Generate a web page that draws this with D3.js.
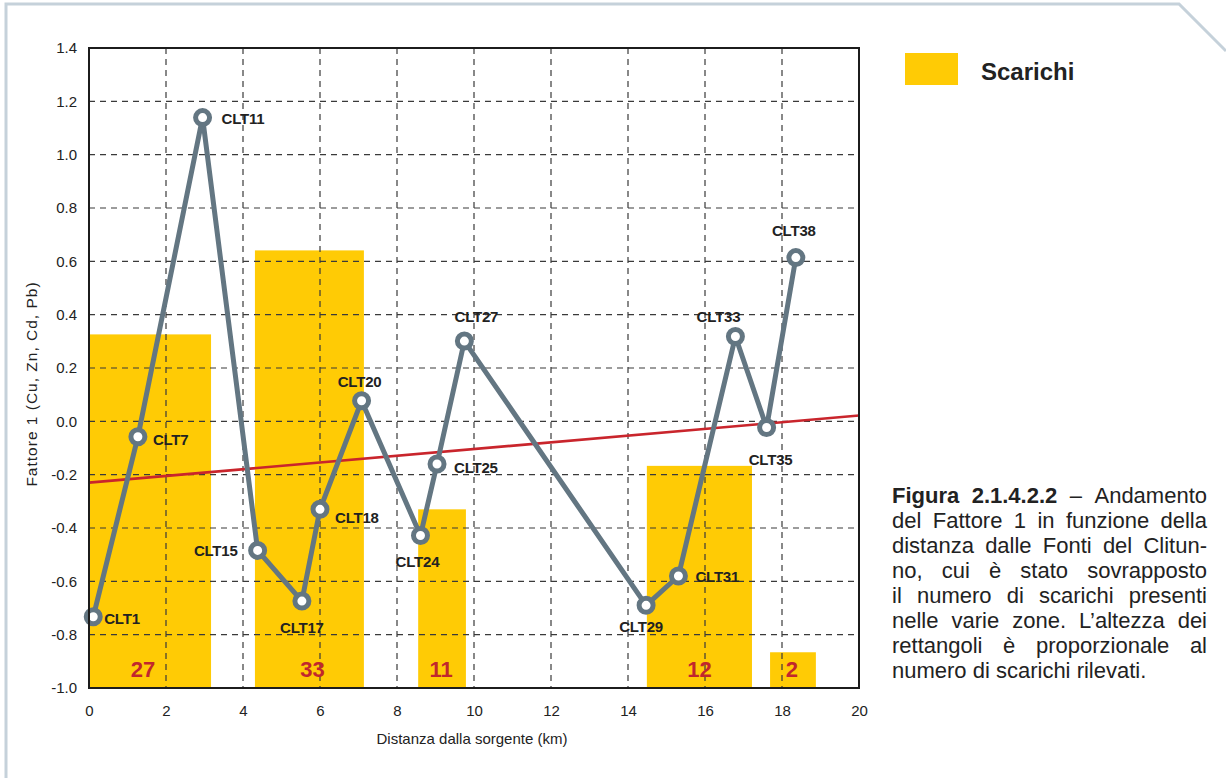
<!DOCTYPE html>
<html>
<head>
<meta charset="utf-8">
<script src="https://cdn.jsdelivr.net/npm/d3@7"></script>
<style>
  html, body { margin: 0; padding: 0; background: #fff; }
  svg { display: block; font-family: "Liberation Sans", Arial, Helvetica, sans-serif; }
</style>
</head>
<body>
<svg id="chart" width="1226" height="778"></svg>
<script>
// Sampling sites along the Clitunno and their Factor 1 scores
const sites = ["CLT1", "CLT7", "CLT11", "CLT15", "CLT17", "CLT18", "CLT20", "CLT24",
               "CLT25", "CLT27", "CLT29", "CLT31", "CLT33", "CLT35", "CLT38"];
const distanceKm = [0.11, 1.27, 2.95, 4.38, 5.53, 6.0, 7.08, 8.61,
                    9.04, 9.75, 14.47, 15.31, 16.79, 17.6, 18.36];
const factor1 = [-0.733, -0.058, 1.139, -0.484, -0.674, -0.33, 0.077, -0.428,
                 -0.16, 0.301, -0.69, -0.58, 0.318, -0.023, 0.614];

// Discharge zones (rectangles rising from the axis floor) and their counts
const zoneStartKm = [0, 4.31, 8.55, 14.49, 17.69];
const zoneEndKm = [3.17, 7.14, 9.79, 17.22, 18.88];
const zoneTop = [0.326, 0.641, -0.33, -0.167, -0.866];
const dischargeCounts = [27, 33, 11, 12, 2];

// Linear trend of Factor 1 against distance
const trendKm = [0, 20];
const trendValue = [-0.23, 0.022];

// Axis ticks
const xTicks = [0, 2, 4, 6, 8, 10, 12, 14, 16, 18, 20];
const yTicks = [-1.0, -0.8, -0.6, -0.4, -0.2, 0.0, 0.2, 0.4, 0.6, 0.8, 1.0, 1.2, 1.4];

// Caption lines (justified except the last one)
const captionLines = [
  "Figura 2.1.4.2.2 – Andamento",
  "del Fattore 1 in funzione della",
  "distanza dalle Fonti del Clitun-",
  "no, cui è stato sovrapposto",
  "il numero di scarichi presenti",
  "nelle varie zone. L’altezza dei",
  "rettangoli è proporzionale al",
  "numero di scarichi rilevati."
];

// ---- layout and style ----
const plot = { left: 89, right: 859, top: 48, bottom: 688 };
const COL = {
  bar: "#FFCB05", line: "#637682", trend: "#C9252C", count: "#C1272D",
  grid: "#3a3a3a", frame: "#1c1c1c", text: "#222", page: "#C5D1DA"
};
// label placement per site: [dx, dy, anchor] relative to the marker
const labelPlace = [
  [11, 7, "start"], [15, 8, "start"], [19, 6, "start"], [-20, 6, "end"],
  [0, 32, "middle"], [15, 14, "start"], [-2, -14, "middle"], [-3, 32, "middle"],
  [17, 9, "start"], [12, -19, "middle"], [-5, 27, "middle"], [17, 6, "start"],
  [-17, -15, "middle"], [4, 38, "middle"], [-2, -22, "middle"]
];
// small horizontal shift of each count label from its rectangle centre
const countShift = [-7, 3, -1, 0, -1];

const svg = d3.select("#chart");

const x = d3.scaleLinear().domain([0, 20]).range([plot.left, plot.right]);
const y = d3.scaleLinear().domain([-1.0, 1.4]).range([plot.bottom, plot.top]);

// page outline with clipped corner
svg.append("path")
  .attr("d", "M6,778 L6,4 L1179,4 L1226,51")
  .attr("fill", "none").attr("stroke", COL.page).attr("stroke-width", 3);

// discharge rectangles
const zones = dischargeCounts.map((c, i) => ({
  start: zoneStartKm[i], end: zoneEndKm[i], top: zoneTop[i], count: c, shift: countShift[i]
}));
svg.append("g").selectAll("rect").data(zones).join("rect")
  .attr("x", d => x(d.start))
  .attr("y", d => y(d.top))
  .attr("width", d => x(d.end) - x(d.start))
  .attr("height", d => y(-1.0) - y(d.top))
  .attr("fill", COL.bar);

// dashed grid
const grid = svg.append("g").attr("stroke", COL.grid).attr("stroke-width", 1.2)
  .attr("stroke-dasharray", "6,5").attr("fill", "none");
grid.selectAll("line.v").data(xTicks.slice(1, -1)).join("line").attr("class", "v")
  .attr("x1", d => x(d)).attr("x2", d => x(d))
  .attr("y1", plot.top).attr("y2", plot.bottom);
grid.selectAll("line.h").data(yTicks.slice(1, -1)).join("line").attr("class", "h")
  .attr("x1", plot.left).attr("x2", plot.right)
  .attr("y1", d => y(d)).attr("y2", d => y(d));

// count labels
svg.append("g").selectAll("text").data(zones).join("text")
  .attr("x", d => x((d.start + d.end) / 2) + d.shift)
  .attr("y", 677)
  .attr("text-anchor", "middle")
  .attr("font-size", 22).attr("font-weight", "bold")
  .attr("fill", COL.count)
  .text(d => d.count);

// trend line
svg.append("line")
  .attr("x1", x(trendKm[0])).attr("y1", y(trendValue[0]))
  .attr("x2", x(trendKm[1])).attr("y2", y(trendValue[1]))
  .attr("stroke", COL.trend).attr("stroke-width", 2.6);

// Factor 1 profile
const pts = sites.map((s, i) => ({ name: s, km: distanceKm[i], v: factor1[i], place: labelPlace[i] }));
svg.append("path")
  .datum(pts)
  .attr("d", d3.line().x(d => x(d.km)).y(d => y(d.v)))
  .attr("fill", "none").attr("stroke", COL.line)
  .attr("stroke-width", 5).attr("stroke-linejoin", "round");
svg.append("g").selectAll("circle").data(pts).join("circle")
  .attr("cx", d => x(d.km)).attr("cy", d => y(d.v)).attr("r", 7)
  .attr("fill", "#fff").attr("stroke", COL.line).attr("stroke-width", 5);
svg.append("g").selectAll("text").data(pts).join("text")
  .attr("x", d => x(d.km) + d.place[0])
  .attr("y", d => y(d.v) + d.place[1])
  .attr("text-anchor", d => d.place[2])
  .attr("font-size", 15).attr("font-weight", "bold")
  .attr("letter-spacing", -0.2)
  .attr("fill", COL.text)
  .text(d => d.name);

// plot frame
svg.append("rect")
  .attr("x", plot.left).attr("y", plot.top)
  .attr("width", plot.right - plot.left).attr("height", plot.bottom - plot.top)
  .attr("fill", "none").attr("stroke", COL.frame).attr("stroke-width", 2);

// axes (labels only)
const fmt = d => d.toFixed(1);
const yAxis = svg.append("g").attr("transform", `translate(${plot.left},0)`)
  .call(d3.axisLeft(y).tickValues(yTicks).tickFormat(fmt).tickSize(0).tickPadding(12));
const xAxis = svg.append("g").attr("transform", `translate(0,${plot.bottom})`)
  .call(d3.axisBottom(x).tickValues(xTicks).tickFormat(d3.format("d")).tickSize(0).tickPadding(17));
[yAxis, xAxis].forEach(a => {
  a.select(".domain").remove();
  a.selectAll("text").attr("font-size", 15).attr("fill", COL.text)
    .attr("font-family", "'Liberation Sans', Arial, sans-serif");
});

// axis titles
svg.append("text")
  .attr("x", (plot.left + plot.right) / 2 - 2).attr("y", 744)
  .attr("text-anchor", "middle").attr("font-size", 15).attr("fill", COL.text)
  .text("Distanza dalla sorgente (km)");
svg.append("text")
  .attr("transform", "translate(37,384) rotate(-90)")
  .attr("text-anchor", "middle").attr("font-size", 15.5).attr("fill", COL.text)
  .attr("letter-spacing", 1)
  .text("Fattore 1 (Cu, Zn, Cd, Pb)");

// legend
svg.append("rect").attr("x", 905).attr("y", 53).attr("width", 53).attr("height", 32)
  .attr("fill", COL.bar);
svg.append("text").attr("x", 981).attr("y", 80)
  .attr("font-size", 24).attr("font-weight", "bold").attr("fill", COL.text)
  .text("Scarichi");

// justified caption
const cap = { left: 892, right: 1207, top: 503, lead: 25, size: 22 };
const capG = svg.append("g").attr("font-size", cap.size).attr("fill", COL.text);
captionLines.forEach((line, li) => {
  const words = line.split(" ");
  const boldCount = li === 0 ? 2 : 0;
  const yPos = cap.top + li * cap.lead;
  const nodes = words.map((w, wi) => capG.append("text")
    .attr("y", yPos)
    .attr("font-weight", wi < boldCount ? "bold" : "normal")
    .text(w));
  const widths = nodes.map(n => n.node().getComputedTextLength());
  const total = d3.sum(widths);
  const last = li === captionLines.length - 1;
  const gap = last ? cap.size * 0.278 : (cap.right - cap.left - total) / (words.length - 1);
  let cx = cap.left;
  nodes.forEach((n, i) => { n.attr("x", cx); cx += widths[i] + gap; });
});
</script>
</body>
</html>
